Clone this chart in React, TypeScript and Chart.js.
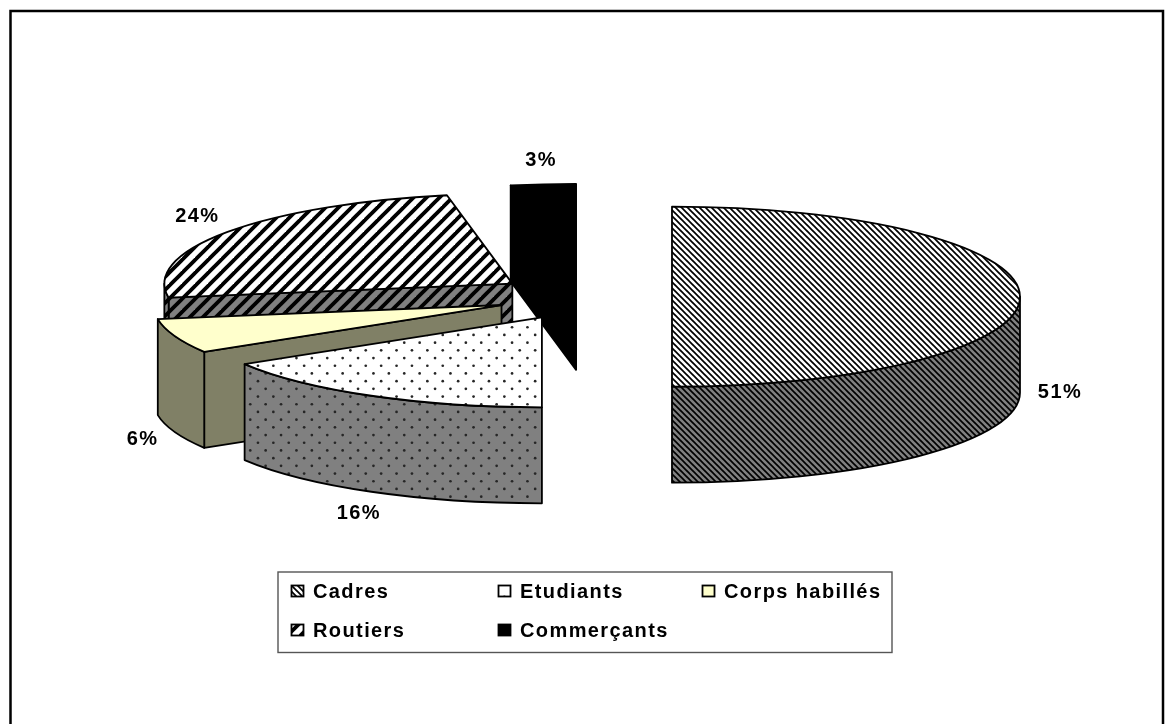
import React, { useEffect, useRef } from "react";
import { Chart, registerables } from "chart.js";

Chart.register(...registerables);

const categories = ["Cadres", "Etudiants", "Corps habillés", "Routiers", "Commerçants"];
const shares = [50.5, 16.3, 6.2, 24.49, 2.51];
const explode = [86, 90, 90, 90, 90];

const DEPTH = 96;
const TILT = 0.2586;
const FONT = "bold 20px 'Liberation Sans', Arial, sans-serif";
// label position relative to each slice's apex
const labelNudges = [
  [388, 96],
  [-183, 196],
  [-359, 134],
  [-315, -67],
  [-35, -113],
];

type Painter = (c: CanvasRenderingContext2D, size: number) => void;

function tile(size: number, bg: string, paint: Painter) {
  const t = document.createElement("canvas");
  t.width = size;
  t.height = size;
  const c = t.getContext("2d")!;
  c.fillStyle = bg;
  c.fillRect(0, 0, size, size);
  paint(c, size);
  return document.createElement("canvas").getContext("2d")!.createPattern(t, "repeat")!;
}

const stripes = (dir: number, width: number): Painter => (c, s) => {
  c.strokeStyle = "#000";
  c.lineWidth = width;
  for (let i = -s; i <= s; i += s) {
    c.beginPath();
    if (dir > 0) {
      c.moveTo(i - s, -s);
      c.lineTo(i + 2 * s, 2 * s);
    } else {
      c.moveTo(i + 2 * s, -s);
      c.lineTo(i - s, 2 * s);
    }
    c.stroke();
  }
};

const dots: Painter = (c, s) => {
  const step = s / 10;
  c.fillStyle = "#262626";
  for (let i = 0; i < 10; i++) {
    for (let j = 0; j < 10; j++) {
      if ((i + j) % 2) continue;
      c.beginPath();
      c.arc((i + 0.5) * step, (j + 0.5) * step, 1.35, 0, Math.PI * 2);
      c.fill();
    }
  }
};

function apex(arc: any) {
  const mid = (arc.startAngle + arc.endAngle) / 2;
  const off = arc.options.offset || 0;
  return { x: arc.x + Math.cos(mid) * off, y: arc.y + Math.sin(mid) * off * TILT };
}

// the reference's edges next to twelve o'clock are seen straight on
const snapToTop = (a: number) => {
  const tol = (2.5 * Math.PI) / 180;
  if (Math.abs(a + Math.PI / 2) < tol) return -Math.PI / 2;
  if (Math.abs(a - (3 * Math.PI) / 2) < tol) return (3 * Math.PI) / 2;
  return a;
};

function drawSlice(ctx: CanvasRenderingContext2D, arc: any, top: any, side: any) {
  const { x, y } = apex(arc);
  const a0 = snapToTop(arc.startAngle);
  const a1 = snapToTop(arc.endAngle);
  const rx = arc.outerRadius;
  const ry = rx * TILT;
  ctx.lineWidth = 1.8;
  ctx.lineJoin = "round";
  ctx.strokeStyle = "#000";

  const quad = (a: number) => {
    ctx.beginPath();
    ctx.moveTo(x, y);
    ctx.lineTo(x + Math.cos(a) * rx, y + Math.sin(a) * ry);
    ctx.lineTo(x + Math.cos(a) * rx, y + Math.sin(a) * ry + DEPTH);
    ctx.lineTo(x, y + DEPTH);
    ctx.closePath();
    ctx.fillStyle = side;
    ctx.fill();
    ctx.stroke();
  };
  if (Math.cos(a0) < -0.001) quad(a0);
  if (Math.cos(a1) > 0.001) quad(a1);

  const lo = Math.max(a0, 0);
  const hi = Math.min(a1, Math.PI);
  if (hi > lo) {
    ctx.beginPath();
    ctx.ellipse(x, y, rx, ry, 0, lo, hi);
    ctx.ellipse(x, y + DEPTH, rx, ry, 0, hi, lo, true);
    ctx.closePath();
    ctx.fillStyle = side;
    ctx.fill();
    ctx.stroke();
  }

  ctx.beginPath();
  ctx.moveTo(x, y);
  ctx.ellipse(x, y, rx, ry, 0, a0, a1);
  ctx.closePath();
  ctx.fillStyle = top;
  ctx.fill();
  ctx.stroke();
}

const pie3d = {
  id: "pie3d",
  beforeDraw(chart: any) {
    const { ctx, width, height } = chart;
    ctx.save();
    ctx.fillStyle = "#fff";
    ctx.fillRect(0, 0, width, height);
    ctx.strokeStyle = "#000";
    ctx.lineWidth = 2.5;
    ctx.strokeRect(10.5, 11, width - 12.5, height + 40);
    ctx.restore();
  },
  beforeDatasetDraw(chart: any, args: any) {
    const { ctx } = chart;
    const ds = chart.data.datasets[args.index];
    const arcs = [...chart.getDatasetMeta(args.index).data];
    const order = arcs.map((_: any, i: number) => i).sort((p: number, q: number) => apex(arcs[p]).y - apex(arcs[q]).y);
    ctx.save();
    order.forEach((i: number) => drawSlice(ctx, arcs[i], ds.backgroundColor[i], ds.sideColor[i]));
    ctx.restore();
    return false;
  },
  afterDatasetsDraw(chart: any) {
    const { ctx } = chart;
    const ds = chart.data.datasets[0];
    const arcs = chart.getDatasetMeta(0).data;
    ctx.save();
    ctx.font = FONT;
    (ctx as any).letterSpacing = "1.4px";
    ctx.fillStyle = "#000";
    ctx.textAlign = "center";
    ctx.textBaseline = "middle";
    arcs.forEach((arc: any, i: number) => {
      const p = apex(arc);
      ctx.fillText(`${Math.round(ds.data[i])}%`, p.x + labelNudges[i][0], p.y + labelNudges[i][1]);
    });

    // legend
    const box = { x: 278, y: 572, w: 614, h: 80.5 };
    const cols = [291, 498, 702];
    const rows = [591, 630];
    ctx.strokeStyle = "#555";
    ctx.lineWidth = 1.4;
    ctx.strokeRect(box.x, box.y, box.w, box.h);
    ctx.textAlign = "left";
    chart.data.labels.forEach((label: string, i: number) => {
      const lx = cols[i % 3];
      const ly = rows[Math.floor(i / 3)];
      ctx.fillStyle = ds.backgroundColor[i];
      ctx.fillRect(lx + 0.5, ly - 5.5, 12, 11);
      ctx.strokeStyle = "#000";
      ctx.lineWidth = 1.8;
      ctx.strokeRect(lx + 0.5, ly - 5.5, 12, 11);
      ctx.fillStyle = "#000";
      ctx.fillText(label, lx + 22, ly + 1);
    });
    ctx.restore();
  },
};

export default function App() {
  const ref = useRef<HTMLCanvasElement | null>(null);
  useEffect(() => {
    document.body.style.margin = "0";
    const tops = [
      tile(6, "#fff", stripes(1, 1.7)),
      tile(77, "#fff", dots),
      "#FFFFCC",
      tile(13, "#fff", stripes(-1, 3.8)),
      "#000",
    ];
    const sides = [
      tile(6, "#808080", stripes(1, 1.7)),
      tile(77, "#808080", dots),
      "#808066",
      tile(13, "#808080", stripes(-1, 3.8)),
      "#000",
    ];
    const chart = new Chart(ref.current!, {
      type: "pie",
      data: {
        labels: categories,
        datasets: [
          {
            data: shares,
            backgroundColor: tops as any,
            sideColor: sides,
            offset: explode,
            borderWidth: 0,
          } as any,
        ],
      },
      plugins: [pie3d as any],
      options: {
        responsive: false,
        animation: false,
        radius: 348,
        rotation: -1.8,
        layout: { padding: { left: 7, bottom: 130 } },
        plugins: { legend: { display: false }, tooltip: { enabled: false } },
      } as any,
    });
    return () => chart.destroy();
  }, []);
  return <canvas ref={ref} width={1165} height={724} style={{ display: "block" }} />;
}
